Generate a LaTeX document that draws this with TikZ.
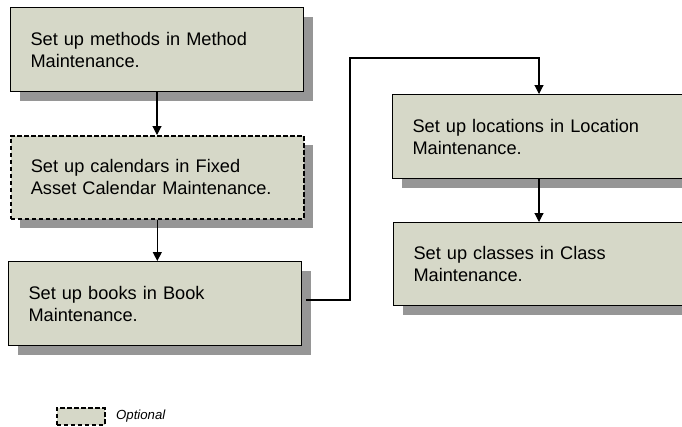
\documentclass[tikz,border=0pt]{standalone}
\usepackage{fontspec}
\setmainfont{Liberation Sans}
\usetikzlibrary{arrows.meta,shadows}
\definecolor{boxfill}{RGB}{214,216,200}
\definecolor{shadowgray}{RGB}{150,150,150}
\tikzset{
  stepbox/.style={draw=black, line width=1pt, fill=boxfill, rectangle, anchor=north west,
    minimum height=84pt, text width=253pt, inner xsep=20pt, inner ysep=0pt, align=left,
    font=\fontsize{18.2pt}{22pt}\selectfont,
    drop shadow={shadow xshift=9pt, shadow yshift=-9pt, fill=shadowgray, opacity=1}},
  optbox/.style={dash pattern=on 4.5pt off 2.5pt, line width=1.6pt},
  conn/.style={draw=black, solid, line width=1.1pt, -{Triangle[width=9pt,length=9pt]}}
}
\begin{document}
\begin{tikzpicture}[x=1pt,y=-1pt]
\useasboundingbox (0,0) rectangle (682,426);
\node[stepbox] (b1) at (10,7) {Set up methods in Method\\Maintenance.};
\node[stepbox, optbox, minimum height=83pt] (b2) at (10,135) {Set up calendars in Fixed\\Asset Calendar Maintenance.};
\node[stepbox] (b3) at (8,261) {Set up books in Book\\Maintenance.};
\node[stepbox] (b4) at (392,94) {Set up locations in Location\\Maintenance.};
\node[stepbox, minimum height=83pt] (b5) at (393,222) {Set up classes in Class\\Maintenance.};
\draw[conn] (b1.south) -- (b1.south |- b2.north);
\draw[conn] (b2.south) -- (b2.south |- b3.north);
\draw[conn] (b4.south) -- (b4.south |- b5.north);
\coordinate (e1) at (350,300);
\coordinate (e2) at (350,58);
\draw[conn] (b3.east |- e1) ++(4,0) -- (e1) -- (e2) -- (b4.north |- e2) -- (b4.north);
\node[draw=black, optbox, fill=boxfill, rectangle, anchor=north west, minimum width=48pt, minimum height=17pt, inner sep=0pt] (leg) at (56,407) {};
\node[anchor=west, inner sep=0pt, font=\fontsize{13.2pt}{15pt}\selectfont\itshape] (legt) at (116,416) {Optional};
\end{tikzpicture}
\end{document}
